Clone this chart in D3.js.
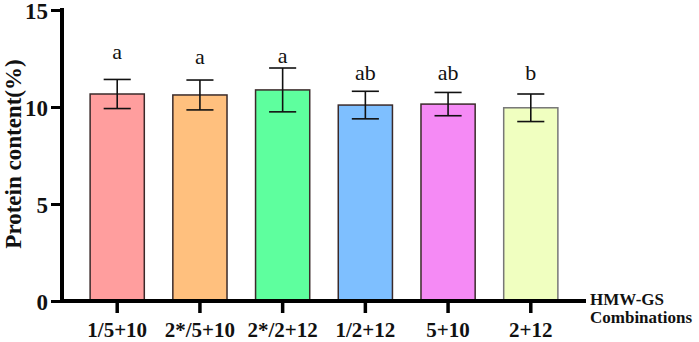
<!DOCTYPE html>
<html>
<head>
<meta charset="utf-8">
<script src="https://cdn.jsdelivr.net/npm/d3@7"></script>
<style>
  body { margin: 0; background: #fff; }
  svg { display: block; }
  svg text { font-family: "Liberation Serif", "Tinos", "Times New Roman", "DejaVu Serif", serif; }
</style>
</head>
<body>
<div id="chart"></div>
<script>
// data
const categories = ["1/5+10", "2*/5+10", "2*/2+12", "1/2+12", "5+10", "2+12"];
const means = [10.67, 10.62, 10.88, 10.10, 10.15, 9.96];
const sds = [0.75, 0.77, 1.13, 0.71, 0.60, 0.71];
const letters = ["a", "a", "a", "ab", "ab", "b"];
const letterAt = [12.5, 12.2, 12.25, 11.4, 11.4, 11.4];
const yTicks = [0, 5, 10, 15];
const colors = ["#ff9e9e", "#ffc07e", "#5eff9e", "#7ebfff", "#f58af5", "#f0ffc0"];
const strokes = ["#3a2a2a", "#3a2a2a", "#3a2a2a", "#3a2a2a", "#3a2a2a", "#777"];

var width = 699, height = 342;
var x0 = 62, x1 = 586, yTop = 10, yBot = 301;
var serif = "'Liberation Serif', Tinos, 'Times New Roman', 'DejaVu Serif', serif";

const svg = d3.select("#chart")
  .append("svg")
    .attr("width", width)
    .attr("height", height);

const x = d3.scaleBand()
  .domain(categories)
  .range([x0, x1])
  .paddingInner(0.345)
  .paddingOuter(0.34);

const y = d3.scaleLinear()
  .domain([0, 15])
  .range([yBot, yTop]);

const rows = categories.map((c, i) => ({
  cat: c, mean: means[i], sd: sds[i], letter: letters[i], at: letterAt[i],
  fill: colors[i], stroke: strokes[i]
}));

//bars
svg.selectAll("rect.bar")
  .data(rows)
  .enter()
  .append("rect")
    .attr("class", "bar")
    .attr("x", d => x(d.cat))
    .attr("y", d => y(d.mean))
    .attr("width", x.bandwidth())
    .attr("height", d => yBot - y(d.mean))
    .attr("fill", d => d.fill)
    .attr("stroke", d => d.stroke)
    .attr("stroke-width", 1.5);

//error bars
const err = svg.selectAll("g.err")
  .data(rows)
  .enter()
  .append("g")
    .attr("class", "err")
    .attr("stroke", "#111")
    .attr("stroke-width", 1.6);

const cx = d => x(d.cat) + x.bandwidth() / 2;
const cap = x.bandwidth() / 4;

err.append("line")
  .attr("x1", cx).attr("x2", cx)
  .attr("y1", d => y(d.mean + d.sd))
  .attr("y2", d => y(d.mean - d.sd));
err.append("line")
  .attr("x1", d => cx(d) - cap).attr("x2", d => cx(d) + cap)
  .attr("y1", d => y(d.mean + d.sd))
  .attr("y2", d => y(d.mean + d.sd));
err.append("line")
  .attr("x1", d => cx(d) - cap).attr("x2", d => cx(d) + cap)
  .attr("y1", d => y(d.mean - d.sd))
  .attr("y2", d => y(d.mean - d.sd));

//significance letters
svg.selectAll("text.sig")
  .data(rows)
  .enter()
  .append("text")
    .attr("class", "sig")
    .attr("x", cx)
    .attr("y", d => y(d.at))
    .attr("text-anchor", "middle")
    .style("font-family", serif)
    .style("font-size", "22px")
    .attr("fill", "#111")
    .text(d => d.letter);

//Y axis
const yAxis = svg.append("g")
  .attr("transform", `translate(${x0},0)`)
  .call(d3.axisLeft(y).tickValues(yTicks).tickSize(11).tickPadding(3));
yAxis.attr("font-family", null);
yAxis.select(".domain")
  .attr("stroke", "#000")
  .attr("stroke-width", 4)
  .attr("d", `M0,${yTop - 2}V${yBot + 2}`);
yAxis.selectAll(".tick line").attr("stroke", "#000").attr("stroke-width", 3);
yAxis.selectAll("text")
  .attr("fill", "#111")
  .attr("dy", "0.35em")
  .style("font-family", serif)
  .style("font-weight", "bold")
  .style("font-size", "23px");

//X axis
const xAxis = svg.append("g")
  .attr("transform", `translate(0,${yBot})`)
  .call(d3.axisBottom(x).tickSize(12).tickPadding(9));
xAxis.attr("font-family", null);
xAxis.select(".domain")
  .attr("stroke", "#000")
  .attr("stroke-width", 4)
  .attr("d", `M${x0 - 2},0H${x1}`);
xAxis.selectAll(".tick line").attr("stroke", "#000").attr("stroke-width", 3.5);
xAxis.selectAll("text")
  .attr("fill", "#111")
  .style("font-family", serif)
  .style("font-weight", "bold")
  .style("font-size", "21px");

//axis titles
svg.append("text")
  .attr("transform", `translate(21,154) rotate(-90)`)
  .attr("text-anchor", "middle")
  .attr("fill", "#111")
  .style("font-family", serif)
  .style("font-weight", "bold")
  .style("font-size", "23px")
  .text("Protein content(%)");

const xt = svg.append("text")
  .attr("x", 590)
  .attr("fill", "#111")
  .style("font-family", serif)
  .style("font-weight", "bold")
  .style("font-size", "17px");
xt.append("tspan").attr("x", 590).attr("y", 305).text("HMW-GS");
xt.append("tspan").attr("x", 590).attr("y", 323).text("Combinations");
</script>
</body>
</html>
